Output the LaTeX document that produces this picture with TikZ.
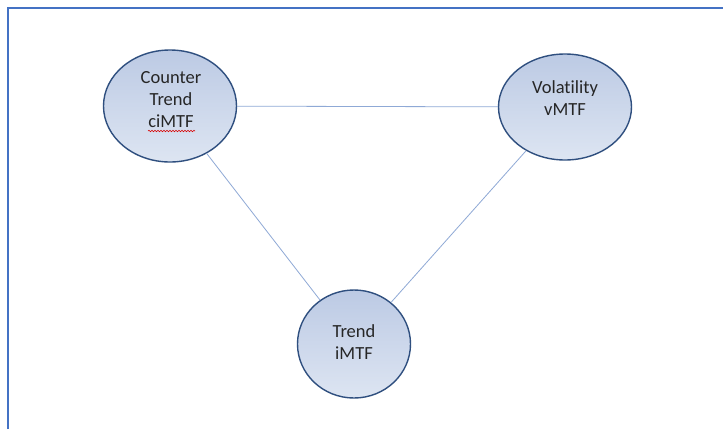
\documentclass[tikz,border=0pt]{standalone}
\usepackage{fontspec}
\setmainfont{Carlito}[Ligatures=NoCommon]
\usetikzlibrary{shapes.geometric,decorations.pathmorphing}

\definecolor{framblue}{HTML}{4472C4}
\definecolor{rimblue}{HTML}{2F4F7F}
\definecolor{topblue}{HTML}{BCCAE4}
\definecolor{botblue}{HTML}{DDE5F2}
\definecolor{linkblue}{HTML}{8FA9D6}

\tikzset{every picture/.style={line width=0.75pt}}
\tikzset{
  mtf/.style={ellipse, draw=rimblue, line width=1.4pt, top color=topblue, bottom color=botblue,
    inner sep=0pt},
  mtftext/.style={align=center, inner sep=0pt, font=\fontsize{18.5}{22}\selectfont, text=black!85},
  link/.style={draw=linkblue, line width=0.8pt}
}

\begin{document}
\begin{tikzpicture}[x=1pt,y=-1pt]
        \useasboundingbox (0,0) rectangle (723,429);
        \fill[white] (0,0) rectangle (723,429);
        \draw[framblue, line width=2pt] (8,429) -- (8,8) -- (723,8);
        \node[mtf, minimum width=133pt, minimum height=112pt] (ct) at (170,106) {};
        \node[mtf, minimum width=133pt, minimum height=106pt] (vol) at (565,107) {};
        \node[mtf, minimum width=113pt, minimum height=108pt] (tr) at (354,344) {};
        \node[mtftext] (ct-txt) at (171,100) {Counter\\Trend\\ciMTF};
        \node[mtftext] (vol-txt) at (565,98) {Volatility\\vMTF};
        \node[mtftext] (tr-txt) at (354,342) {Trend\\iMTF};
        \draw[link] (ct) -- (vol);
        \draw[link] (ct) -- (tr);
        \draw[link] (vol) -- (tr);
        % spell-check squiggle
        \draw[red!85!black, line width=0.6pt, decorate, decoration={snake, amplitude=0.7pt, segment length=3pt}]
          (148,131) -- (195,131);
    \end{tikzpicture}
\end{document}
